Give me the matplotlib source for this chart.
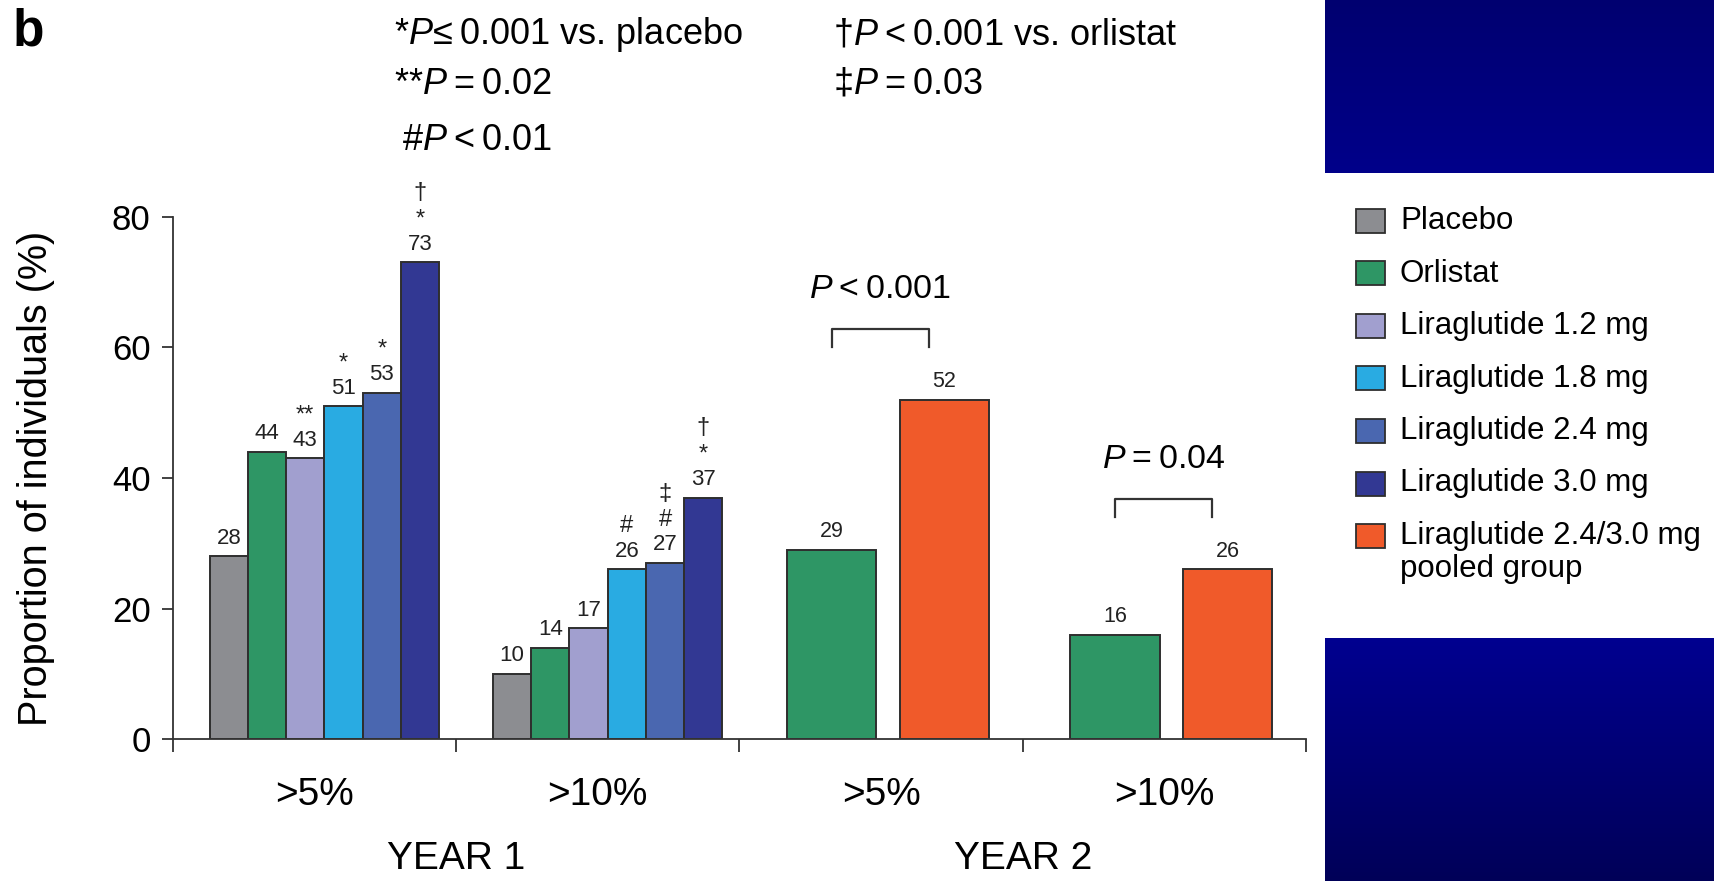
import numpy as np
import matplotlib
matplotlib.use("Agg")
import matplotlib.pyplot as plt
from matplotlib.patches import Rectangle
from matplotlib.colors import LinearSegmentedColormap

plt.rcParams["font.family"] = "Liberation Sans"
plt.rcParams["mathtext.fontset"] = "custom"
plt.rcParams["mathtext.it"] = "Liberation Sans:italic"
plt.rcParams["mathtext.rm"] = "Liberation Sans"

# ---------- data ----------
section_labels = [">5%", ">10%", ">5%", ">10%"]
year_labels = ["YEAR 1", "YEAR 2"]
y1_groups = ["Placebo", "Orlistat", "Liraglutide 1.2 mg", "Liraglutide 1.8 mg",
             "Liraglutide 2.4 mg", "Liraglutide 3.0 mg"]
y1_gt5 = [28, 44, 43, 51, 53, 73]
y1_gt10 = [10, 14, 17, 26, 27, 37]
y1_gt5_sig = [[], [], ["**"], ["*"], ["*"], ["*", "\u2020"]]
y1_gt10_sig = [[], [], [], ["#"], ["#", "\u2021"], ["*", "\u2020"]]
y2_groups = ["Orlistat", "Liraglutide 2.4/3.0 mg\npooled group"]
y2_gt5 = [29, 52]
y2_gt10 = [16, 26]
y2_pvals = ["$P$\u2009<\u20090.001", "$P$\u2009=\u20090.04"]
legend_labels = ["Placebo", "Orlistat", "Liraglutide 1.2 mg", "Liraglutide 1.8 mg",
                 "Liraglutide 2.4 mg", "Liraglutide 3.0 mg",
                 "Liraglutide 2.4/3.0 mg\npooled group"]
footnotes_left = ["*$P$\u2264\u20090.001 vs. placebo", "**$P$\u2009=\u20090.02", "#$P$\u2009<\u20090.01"]
footnotes_right = ["\u2020$P$\u2009<\u20090.001 vs. orlistat", "\u2021$P$\u2009=\u20090.03"]

colors = {"Placebo": "#8c8d91", "Orlistat": "#2e9665", "Liraglutide 1.2 mg": "#a19fcf",
          "Liraglutide 1.8 mg": "#29abe2", "Liraglutide 2.4 mg": "#4a67b0",
          "Liraglutide 3.0 mg": "#323893", "Liraglutide 2.4/3.0 mg\npooled group": "#f05a2a"}
EDGE = "#2e2e2e"

W, H = 1715, 881
fig = plt.figure(figsize=(W / 100, H / 100), dpi=100)
fig.patch.set_facecolor("white")

# navy slide background showing through on the right
for (y0, y1, c_top, c_bot) in [(0, 173, "#000070", "#00008a"), (638, 881, "#000090", "#000058")]:
    bax = fig.add_axes([1325 / W, 1 - y1 / H, (W - 1325) / W, (y1 - y0) / H])
    grad = np.linspace(0, 1, 256)[:, None]
    cm = LinearSegmentedColormap.from_list("bg", [c_top, c_bot])
    bax.imshow(grad, aspect="auto", cmap=cm, extent=[0, 1, 0, 1], origin="upper")
    bax.set_axis_off()

ax = fig.add_axes([172.8 / W, 141.6 / H, (1306 - 172.8) / W, 522.8 / H])

def stack(x, top, items, fs=16, sfs=17):
    ax.annotate(items[0], (x, top), xytext=(0, 13), textcoords="offset points",
                ha="center", va="center", fontsize=fs, color="#222222")
    for k, t in enumerate(items[1:]):
        ax.annotate(t, (x, top), xytext=(0, 31 + 19 * k), textcoords="offset points",
                    ha="center", va="center", fontsize=sfs, color="#222222")

# year 1 bars
bw1, start1 = 0.135, 0.13
for sec, vals, sigs in [(0, y1_gt5, y1_gt5_sig), (1, y1_gt10, y1_gt10_sig)]:
    for i, (g, v) in enumerate(zip(y1_groups, vals)):
        left = sec + start1 + i * bw1
        ax.bar(left, v, width=bw1, align="edge", color=colors[g], edgecolor=EDGE, linewidth=1.4)
        stack(left + bw1 / 2, v, [str(v)] + sigs[i])

# year 2 bars
bw2, lefts2 = 0.315, [0.168, 0.566]
for sec, vals, ptxt in [(2, y2_gt5, y2_pvals[0]), (3, y2_gt10, y2_pvals[1])]:
    centers = []
    for i, (g, v) in enumerate(zip(y2_groups, vals)):
        left = sec + lefts2[i]
        ax.bar(left, v, width=bw2, align="edge", color=colors[g], edgecolor=EDGE, linewidth=1.4)
        stack(left + bw2 / 2, v, [str(v)], fs=15.5)
        centers.append(left + bw2 / 2)
    top = max(vals) + 10.8
    xl, xr = centers[0], centers[1] - 0.055
    ax.plot([xl, xl, xr, xr], [top - 2.8, top, top, top - 2.8], color="#333333", lw=1.6,
            clip_on=False)
    ax.text((xl + xr) / 2, max(vals) + 16.8, ptxt, ha="center", va="center", fontsize=24.5)

ax.set_xlim(0, 4)
ax.set_ylim(0, 80)
ax.set_yticks([0, 20, 40, 60, 80])
ax.set_xticks([0, 1, 2, 3, 4])
ax.set_xticklabels([])
for s in ["top", "right"]:
    ax.spines[s].set_visible(False)
for s in ["left", "bottom"]:
    ax.spines[s].set_linewidth(1.3)
    ax.spines[s].set_color("#333333")
ax.tick_params(axis="y", direction="out", length=8, width=1.3, labelsize=25, pad=8, color="#333333")
ax.tick_params(axis="x", direction="out", length=9.5, width=1.3, color="#333333")

tr = ax.get_xaxis_transform()
for i, lab in enumerate(section_labels):
    ax.text(i + 0.5, -0.107, lab, transform=tr, ha="center", va="center", fontsize=28)
for i, lab in enumerate(year_labels):
    ax.text(1 + 2 * i, -0.2286, lab, transform=tr, ha="center", va="center", fontsize=28)

fig.text(36 / W, 1 - 478 / H, "Proportion of individuals (%)", rotation=90,
         ha="center", va="center", fontsize=28.5)
fig.text(13 / W, 1 - 46 / H, "b", fontsize=37, fontweight="bold", va="baseline", ha="left")

for txt, (x, y) in zip(footnotes_left, [(394, 35), (394, 84), (402, 140)]):
    fig.text(x / W, 1 - y / H, txt, fontsize=26, ha="left", va="center")
for txt, (x, y) in zip(footnotes_right, [(833, 35), (833, 84)]):
    fig.text(x / W, 1 - y / H, txt, fontsize=26, ha="left", va="center")

# legend drawn by hand
ly = 221
for lab in legend_labels:
    fig.patches.append(Rectangle((1356 / W, 1 - (ly + 12) / H), 29.5 / W, 24 / H,
                                 transform=fig.transFigure, facecolor=colors[lab],
                                 edgecolor=EDGE, linewidth=1.3))
    if "\n" in lab:
        fig.text(1400 / W, 1 - (ly - 15) / H, lab, fontsize=22.5, ha="left", va="top",
                 linespacing=1.15)
    else:
        fig.text(1400 / W, 1 - ly / H, lab, fontsize=22.5, ha="left", va="center")
    ly += 52.5

fig.savefig("out.png", dpi=100)
